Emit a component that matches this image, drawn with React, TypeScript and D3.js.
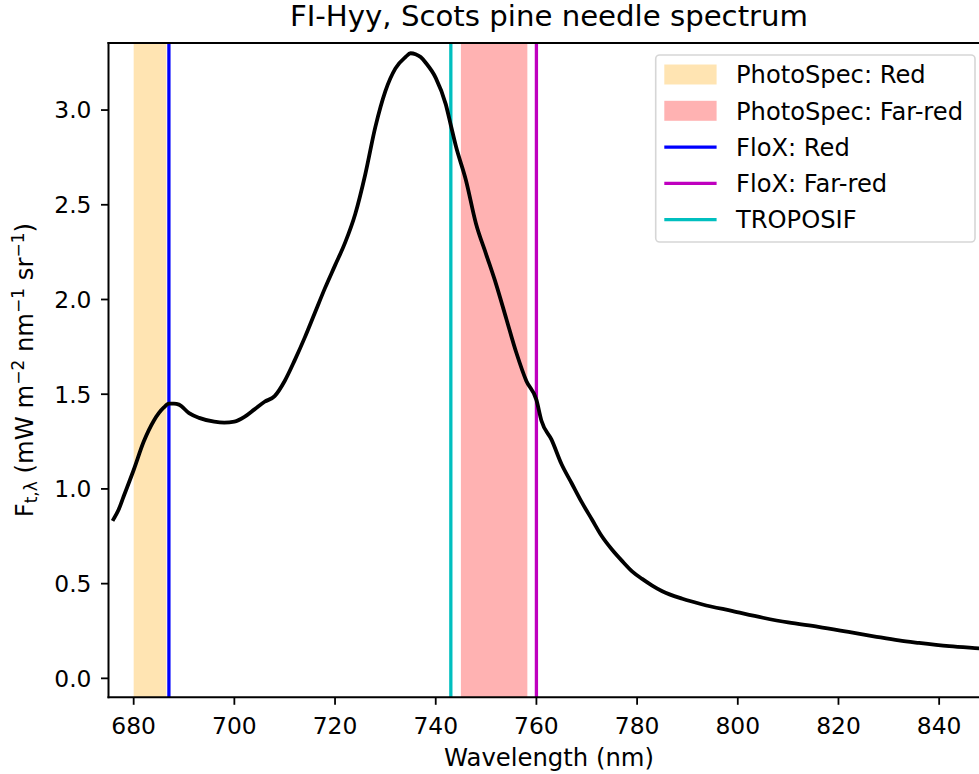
import React from "react";
import * as d3 from "d3";

const wavelengths = [676,677,678,680,682,684,686,687,688,689,691,693,696,698,700,702,704,706,708,710,712,714,716,718,720,722,724,726,728,730,732,734,735,736,737,738,740,742,743,744,746,748,750,752,754,756,758,760,761,763,765,767,769,771,773,775,777,779,781,783,785,789,793,799,805,810,816,822,827,832,836,842,848,852];
const fluorescence = [0.84,0.89,0.96,1.10,1.25,1.36,1.43,1.45,1.45,1.445,1.40,1.375,1.355,1.35,1.355,1.38,1.42,1.46,1.49,1.57,1.68,1.80,1.93,2.06,2.18,2.30,2.45,2.66,2.91,3.10,3.22,3.28,3.30,3.295,3.28,3.25,3.17,3.03,2.92,2.81,2.63,2.40,2.24,2.08,1.90,1.72,1.57,1.47,1.36,1.26,1.13,1.03,0.93,0.84,0.75,0.68,0.62,0.565,0.525,0.49,0.46,0.42,0.39,0.355,0.32,0.295,0.272,0.245,0.222,0.20,0.187,0.17,0.158,0.15];

const xTicks = [680,700,720,740,760,780,800,820,840];
const yTicks = [0.0,0.5,1.0,1.5,2.0,2.5,3.0];

const spanLabels = ["PhotoSpec: Red","PhotoSpec: Far-red"];
const spanStart = [680,745];
const spanEnd = [686.5,758.2];
const spanColors = ["rgba(255,165,0,0.3)","rgba(255,0,0,0.3)"];

const lineLabels = ["FloX: Red","FloX: Far-red","TROPOSIF"];
const linePos = [687,760,743];
const lineColors = ["#0000ff","#bf00bf","#00bfbf"];

const W = 979, H = 774;
const L = 108.5, R = 989.5, T = 43, B = 697.3;
const FONT = "'DejaVu Sans', sans-serif";

export default function App() {
  const x = d3.scaleLinear().domain([675, 850]).range([L, R]);
  const y = d3.scaleLinear().domain([-0.1, 3.354]).range([B, T]);
  const data = wavelengths.map((w, i) => [w, fluorescence[i]] as [number, number]);
  const line = d3.line<[number, number]>().x(d => x(d[0])).y(d => y(d[1])).curve(d3.curveMonotoneX);

  const legendItems = [
    ...spanLabels.map((l, i) => ({ label: l, kind: "patch", color: spanColors[i] })),
    ...lineLabels.map((l, i) => ({ label: l, kind: "line", color: lineColors[i] })),
  ];
  const fs = 23.4;
  const lfs = 24.2;
  const afs = 24.3;

  return (
    <svg width={W} height={H} style={{ position: "absolute", left: 0, top: 0, background: "#fff" }} fontFamily={FONT}>
      <defs>
        <clipPath id="plotclip"><rect x={L} y={T} width={R - L} height={B - T} /></clipPath>
      </defs>
      <rect x={0} y={0} width={W} height={H} fill="#fff" />
      <g clipPath="url(#plotclip)">
        {spanStart.map((s, i) => (
          <rect key={"s" + i} x={x(s)} y={T} width={x(spanEnd[i]) - x(s)} height={B - T} fill={spanColors[i]} />
        ))}
        {linePos.map((p, i) => (
          <line key={"l" + i} x1={x(p)} x2={x(p)} y1={T} y2={B} stroke={lineColors[i]} strokeWidth={3.3} />
        ))}
        <path d={line(data) || ""} fill="none" stroke="#000" strokeWidth={3.8} strokeLinejoin="round" strokeLinecap="square" />
      </g>
      {/* spines */}
      <line x1={L} x2={L} y1={T} y2={B} stroke="#000" strokeWidth={2} strokeLinecap="square" />
      <line x1={L} x2={R} y1={B} y2={B} stroke="#000" strokeWidth={2} strokeLinecap="square" />
      <line x1={L} x2={R} y1={T} y2={T} stroke="#000" strokeWidth={2} strokeLinecap="square" />
      <line x1={R} x2={R} y1={T} y2={B} stroke="#000" strokeWidth={2} />
      {/* x ticks */}
      {xTicks.map(t => (
        <g key={"xt" + t}>
          <line x1={x(t)} x2={x(t)} y1={B} y2={B + 7.5} stroke="#000" strokeWidth={1.8} />
          <text x={x(t)} y={B + 36.5} textAnchor="middle" fontSize={fs} fill="#000">{t}</text>
        </g>
      ))}
      {/* y ticks */}
      {yTicks.map(t => (
        <g key={"yt" + t}>
          <line x1={L - 7.5} x2={L} y1={y(t)} y2={y(t)} stroke="#000" strokeWidth={1.8} />
          <text x={L - 17} y={y(t)} dy="0.36em" textAnchor="end" fontSize={fs} fill="#000">{t.toFixed(1)}</text>
        </g>
      ))}
      {/* title */}
      <text x={(L + R) / 2} y={26} textAnchor="middle" fontSize={29.2} fill="#000">FI-Hyy, Scots pine needle spectrum</text>
      {/* x label */}
      <text x={(L + R) / 2} y={766} textAnchor="middle" fontSize={afs} fill="#000">Wavelength (nm)</text>
      {/* y label */}
      <text transform={`translate(33,${(T + B) / 2}) rotate(-90)`} textAnchor="middle" fontSize={afs} fill="#000">
        F<tspan fontSize={afs * 0.7} dy={4}>t,λ</tspan>
        <tspan dy={-4}> (mW m</tspan>
        <tspan fontSize={afs * 0.7} dy={-9}>−2</tspan>
        <tspan dy={9}> nm</tspan>
        <tspan fontSize={afs * 0.7} dy={-9}>−1</tspan>
        <tspan dy={9}> sr</tspan>
        <tspan fontSize={afs * 0.7} dy={-9}>−1</tspan>
        <tspan dy={9}>)</tspan>
      </text>
      {/* legend */}
      <rect x={655.7} y={55} width={319.3} height={187} rx={4} ry={4} fill="rgba(255,255,255,0.8)" stroke="#d6d6d6" strokeWidth={1.6} />
      {legendItems.map((it, i) => {
        const cy = 74.5 + i * 36.3;
        return (
          <g key={"lg" + i}>
            {it.kind === "patch" ? (
              <rect x={664.3} y={cy - 10} width={52.3} height={20} fill={it.color} />
            ) : (
              <line x1={664.3} x2={716.6} y1={cy} y2={cy} stroke={it.color} strokeWidth={3.3} />
            )}
            <text x={736} y={cy} dy="0.36em" fontSize={lfs} fill="#000">{it.label}</text>
          </g>
        );
      })}
    </svg>
  );
}
